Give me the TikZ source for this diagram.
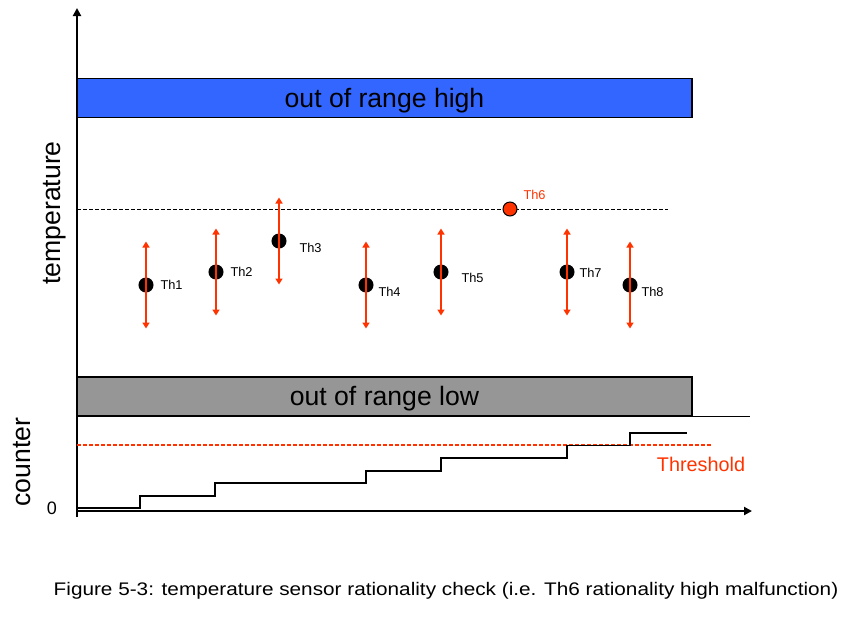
\documentclass[tikz,border=0pt]{standalone}
\usepackage{fontspec}
\setmainfont{Liberation Sans}
\usetikzlibrary{arrows.meta,calc}
\definecolor{highblue}{RGB}{51,102,255}
\definecolor{lowgray}{RGB}{150,150,150}
\definecolor{limitred}{RGB}{255,51,0}

\begin{document}
\begin{tikzpicture}[x=1pt,y=-1pt,line width=1pt]
      \tikzstyle{band} = [draw,line width=1.5pt,minimum width=615pt,minimum height=39pt,inner sep=0pt,text depth=0.8pt,font=\fontsize{26.6}{30}\selectfont]
      \tikzstyle{sensor} = [draw,fill=black,shape=circle,minimum size=14pt,inner sep=0pt]
      \tikzstyle{spread} = [limitred,line width=1.5pt,{Triangle[length=6pt,width=7pt]}-{Triangle[length=6pt,width=7pt]}]
      \tikzstyle{tag} = [font=\fontsize{12.8}{14}\selectfont,anchor=west,inner sep=0pt]
      \tikzstyle{axis} = [line width=2pt,-{Triangle[length=8pt,width=8pt]}]
      \tikzstyle{biglabel} = [font=\fontsize{26.6}{30}\selectfont,rotate=90]
      %
      \useasboundingbox (0,0) rectangle (850,619);

      % Limit bands.
      \node[band,fill=highblue] (high) at (384.5,98) {out of range high};
      \node[band,fill=lowgray] (low) at (384.5,396.5) {out of range low};
      \coordinate (sepend) at (750,0);
      \draw (low.south east) -- (low.south east -| sepend);

      % Axes.
      \coordinate (origin) at (77,511);
      \coordinate (ybase) at (77,517);
      \coordinate (ytip) at (77,8);
      \coordinate (xtip) at (752,511);
      \draw[axis] (ybase) -- (ytip);
      \draw[axis] (origin) -- (xtip);
      \node[biglabel] (templabel) at (55,213) {temperature};
      \node[biglabel] (countlabel) at (22,462) {counter};
      \node[font=\fontsize{18}{20}\selectfont] (zero) at (52,508) {0};

      % Max line and the sensors.
      \coordinate (maxstart) at (77,209);
      \coordinate (maxend) at (668,209);
      \draw[dash pattern=on 4pt off 2pt] (maxstart) -- (maxend);
      \foreach \n/\x/\y/\dx/\dy in {1/146/285/14/0, 2/216/272/14/0, 3/279/241/20/7, 4/366/285/12/7, 5/441/272/20/6, 7/567/272/12/1, 8/630/285/11/7} {
        \coordinate (th\n-up) at (\x,\y-43.5);
        \coordinate (th\n-down) at (\x,\y+43.5);
        \node[sensor] (th\n) at (\x,\y) {};
        \draw[spread] (th\n-up) -- (th\n-down);
        \node[tag] (th\n-tag) at (\x+\dx,\y+\dy) {Th\n};
      }
      \node[sensor,fill=limitred,line width=1pt] (th6) at (510,209) {};
      \node[tag,text=limitred] (th6-tag) at (523,195) {Th6};

      % Counter and threshold.
      \coordinate (thrstart) at (77,445);
      \coordinate (thrend) at (712,445);
      \draw[limitred,line width=1.5pt,dash pattern=on 4pt off 2pt] (thrstart) -- (thrend);
      \node[text=limitred,font=\fontsize{19.8}{22}\selectfont] (thrlabel) at (701,464) {Threshold};
      \draw[line width=1.5pt] (77,508) -| (140,496) -| (215,483) -| (366,471) -| (441,458) -| (567,445.5) -| (630,433) -- (687,433);

      % Caption.
      \node[font=\fontsize{18.2}{20}\selectfont,xscale=1.14] (caption) at (446,591) {Figure 5-3: temperature sensor rationality check (i.e. Th6 rationality high malfunction)};
\end{tikzpicture}
\end{document}
